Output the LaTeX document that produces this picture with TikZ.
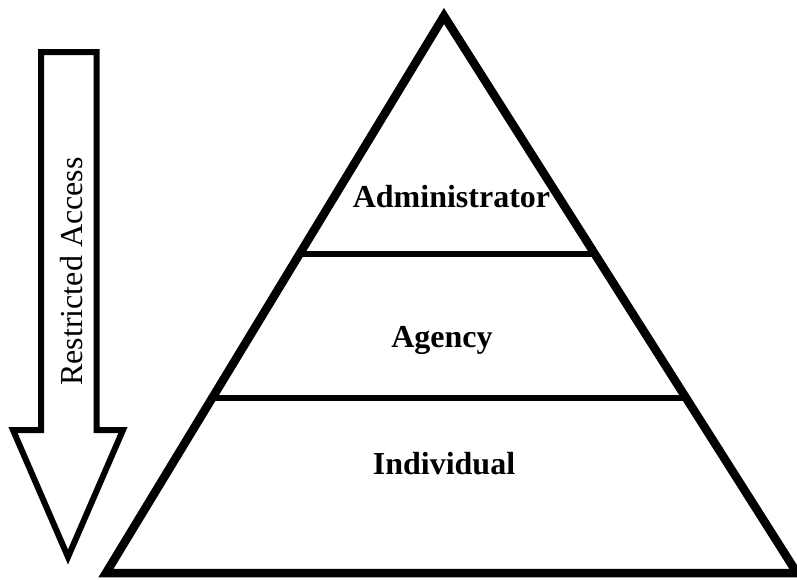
\documentclass[tikz,border=0pt]{standalone}
\usepackage{fontspec}
\setmainfont{Liberation Serif}
\usetikzlibrary{calc}
\begin{document}
\begin{tikzpicture}[x=1pt,y=-1pt,
  outline/.style={draw=black,line width=8.5pt,line join=miter,miter limit=20},
  tier/.style={draw=black,line width=6pt},
  arrowshape/.style={draw=black,fill=white,line width=6pt,line join=miter,miter limit=20},
  tierlabel/.style={font=\fontsize{32}{38}\selectfont\bfseries,anchor=base,inner sep=0pt},
  arrowlabel/.style={font=\fontsize{32}{38}\selectfont,rotate=90,inner sep=0pt}]
\useasboundingbox (0,0) rectangle (797,579);
\fill[white] (0,0) rectangle (797,579);
% pyramid
\coordinate (apex) at (444,16);
\coordinate (bl) at (106,573);
\coordinate (br) at (797,573);
\draw[outline] (apex) -- (bl) -- (br) -- cycle;
\coordinate (t1l) at ($(apex)!0.4273!(bl)$);
\coordinate (t1r) at ($(apex)!0.4273!(br)$);
\coordinate (t2l) at ($(apex)!0.6858!(bl)$);
\coordinate (t2r) at ($(apex)!0.6858!(br)$);
\draw[tier] (t1l) -- (t1r);
\draw[tier] (t2l) -- (t2r);
\node[tierlabel] (admin) at (451.5,207) {Administrator};
\node[tierlabel] (agency) at (442,347) {Agency};
\node[tierlabel] (indiv) at (444,474) {Individual};
% arrow
\draw[arrowshape] (41,52) -- (96.5,52) -- (96.5,430) -- (123,430) -- (68,557) -- (13,430) -- (41,430) -- cycle;
\node[arrowlabel] (access) at (72,271.5) {Restricted Access};
\end{tikzpicture}
\end{document}
